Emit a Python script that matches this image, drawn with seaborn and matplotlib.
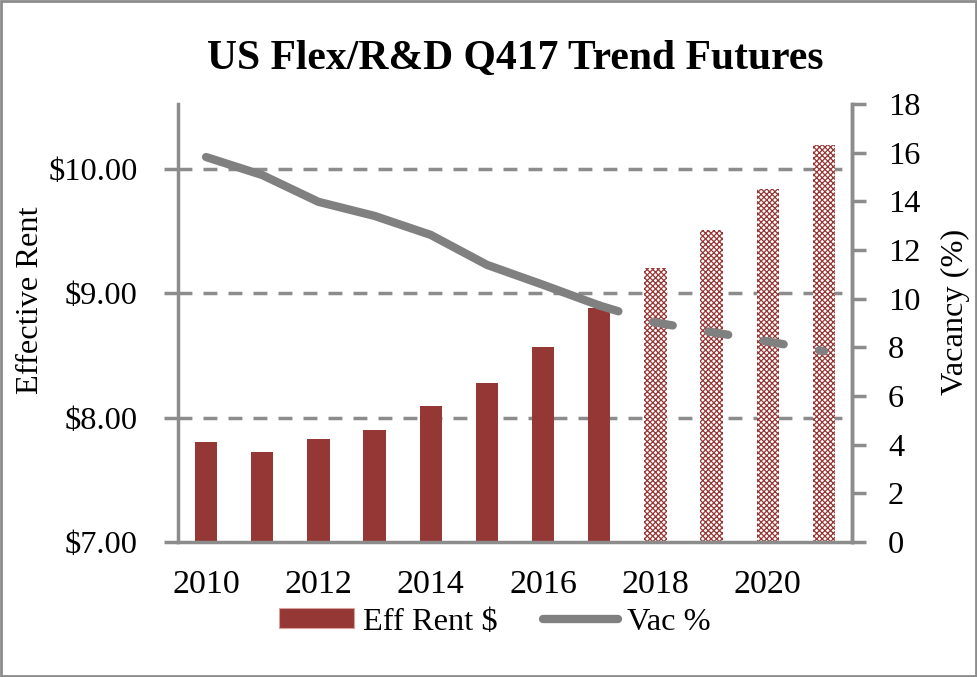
import matplotlib
matplotlib.use("Agg")
import matplotlib.pyplot as plt
import seaborn as sns
import pandas as pd
import numpy as np
from matplotlib.patches import Rectangle, Patch
from matplotlib.lines import Line2D
from matplotlib.ticker import FixedLocator, FuncFormatter

# ---- data ----
years = [2010, 2011, 2012, 2013, 2014, 2015, 2016, 2017, 2018, 2019, 2020, 2021]
eff_rent = [7.80, 7.72, 7.83, 7.90, 8.09, 8.28, 8.57, 8.88, 9.20, 9.51, 9.84, 10.19]
vacancy = [15.82, 15.08, 13.98, 13.40, 12.62, 11.39, 10.57, 9.72, 9.02, 8.63, 8.24, 7.84]
forecast_start = 2018   # bars/line from here on are projections
tick_labels = ["2010", "", "2012", "", "2014", "", "2016", "", "2018", "", "2020", ""]

sns.set_theme(style="white")
plt.rcParams["font.family"] = ["Liberation Serif", "DejaVu Serif"]
plt.rcParams["hatch.linewidth"] = 0.9
plt.rcParams["text.color"] = "black"

BAR = "#953735"
GRAY = "#808080"
AXC = "#8c8c8c"
FS = 23.3

fig = plt.figure(figsize=(9.77, 6.77), dpi=100)
ax = fig.add_axes([178/977, 1-542/677, (852-178)/977, (542-104)/677])

df = pd.DataFrame({"year": [str(y) for y in years], "rent": eff_rent, "vac": vacancy,
                   "pos": np.arange(len(years))})

sns.barplot(data=df, x="year", y="rent", color=BAR, width=0.4, ax=ax,
            saturation=1, errorbar=None)
for p, y in zip(ax.patches, years):
    p.set_linewidth(0)
    if y >= forecast_start:
        p.set_facecolor("white")
        p.set_edgecolor(BAR)
        p.set_hatch("xxxxxx")
        p.set_linewidth(0)

ax.set_ylim(7.0, 10.52)
ax.set_xlim(-0.5, len(years) - 0.5)
ax.yaxis.set_major_locator(FixedLocator([7, 8, 9, 10]))
ax.yaxis.set_major_formatter(FuncFormatter(lambda v, p: f"${v:.2f}"))
ax.set_xticks(np.arange(len(years)))
ax.set_xticklabels(tick_labels)
ax.set_xticks(np.arange(-0.5, len(years)), minor=True)
ax.tick_params(axis="x", which="major", length=0, pad=20, labelsize=24.5, colors="black")
ax.tick_params(axis="x", which="minor", length=10, width=2.5, color=AXC, direction="out")
ax.tick_params(axis="y", length=10, width=2.5, color=AXC, direction="out", pad=19,
               labelsize=FS, labelcolor="black")
ax.set_xlabel("")
ax.set_ylabel("")
for y in [8, 9, 10]:
    ax.axhline(y, color=AXC, lw=2.5, ls=(0, (4, 3.2)), zorder=0.5)
ax.spines["top"].set_visible(False)
for s in ["left", "bottom", "right"]:
    ax.spines[s].set_color(AXC)
    ax.spines[s].set_linewidth(2.5)

ax2 = ax.twinx()
hist = df[df["year"].astype(int) <= forecast_start - 1]
fut = df[df["year"].astype(int) >= forecast_start - 1]
sns.lineplot(data=hist, x="pos", y="vac", color=GRAY, lw=6, ax=ax2,
             solid_capstyle="round", solid_joinstyle="round")
sns.lineplot(data=fut, x="pos", y="vac", color=GRAY, lw=6, ax=ax2)
ln = ax2.lines[-1]
ln.set_dashes((2.4, 4.35))
ln.set_dash_capstyle("round")
ax2.set_ylim(0, 18)
ax2.set_xlim(-0.5, len(years) - 0.5)
ax2.set_yticks(np.arange(0, 19, 2))
ax2.tick_params(axis="y", length=10, width=2.5, color=AXC, direction="out", pad=16,
                labelsize=FS, labelcolor="black")
ax2.set_xlabel("")
ax2.set_ylabel("")
for s in ["top", "left", "bottom"]:
    ax2.spines[s].set_visible(False)
ax2.spines["right"].set_color(AXC)
ax2.spines["right"].set_linewidth(2.5)

fig.text(0.031, 1-300/677, "Effective Rent", rotation=90, ha="center", va="center",
         fontsize=FS, color="black")
fig.text(955/977, 1-312/677, "Vacancy (%)", rotation=90, ha="center", va="center",
         fontsize=FS, color="black")
fig.text(515/977, 1-59/677, "US Flex/R&D Q417 Trend Futures", ha="center", va="center",
         fontsize=30, fontweight="bold", color="black")

handles = [Patch(facecolor=BAR, edgecolor="#d9a0a0", lw=0.8, label="Eff Rent $"),
           Line2D([0], [0], color=GRAY, lw=6, solid_capstyle="round", label="Vac %")]
fig.legend(handles=handles, loc="center", bbox_to_anchor=(495/977, 1-622/677), ncol=2,
           frameon=False, fontsize=FS, handlelength=2.3, handleheight=0.6,
           columnspacing=1.4, handletextpad=0.3, labelcolor="black")

fig.patches.append(Rectangle((0.001, 0.001), 0.998, 0.998, transform=fig.transFigure,
                             fill=False, edgecolor=AXC, lw=2))
fig.savefig("out.png", dpi=100)
